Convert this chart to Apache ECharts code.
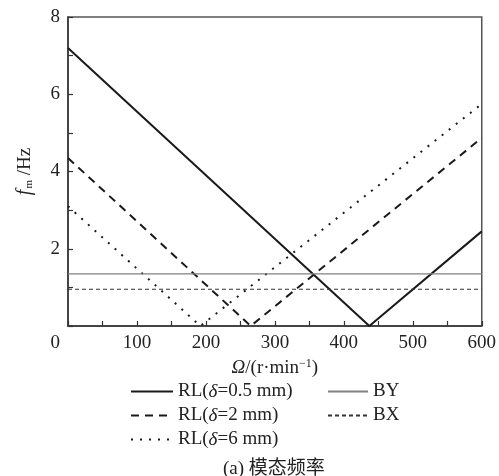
<!DOCTYPE html>
<html><head><meta charset="utf-8">
<script src="https://cdn.jsdelivr.net/npm/echarts@6/dist/echarts.min.js"></script>
<style>html,body{margin:0;padding:0;background:#fff}#c{width:499px;height:476px}</style>
</head><body><div id="c"></div>
<script>
var xTicks = [0, 100, 200, 300, 400, 500, 600];
var yTicks = [0, 2, 4, 6, 8];
var seriesNames = ['RL(δ=0.5 mm)', 'RL(δ=2 mm)', 'RL(δ=6 mm)', 'BY', 'BX'];
var rl05 = [[0, 7.2], [437, 0], [600, 2.45]];
var rl2 = [[0, 4.35], [265, 0], [600, 4.87]];
var rl6 = [[0, 3.1], [192, 0], [600, 5.75]];
var by = [[0, 1.35], [600, 1.35]];
var bx = [[0, 0.95], [600, 0.95]];
var caption = '(a) 模态频率';

var FF = '"Liberation Serif", "Times New Roman", serif';
var chart = echarts.init(document.getElementById('c'), null, {renderer: 'canvas'});
function legFmt(name) { return name.replace('δ', '{i|δ}'); }
var legText = {fontFamily: FF, fontSize: 19, color: '#222', rich: {i: {fontFamily: FF, fontSize: 19, fontStyle: 'italic', color: '#222'}}};
function mk(name, data, color, width, type) {
  return {name: name, type: 'line', data: data, symbol: 'none', silent: true, animation: false,
    lineStyle: {color: color, width: width, type: type}, itemStyle: {color: color}};
}
chart.setOption({
  backgroundColor: '#fff',
  animation: false,
  title: {text: caption, left: 218, top: 455, textStyle: {fontFamily: FF + ', "Noto Sans CJK SC"', fontSize: 19, fontWeight: 'normal', color: '#222'}},
  grid: {left: 68, right: 16, top: 17, bottom: 150, show: true, borderColor: '#555', borderWidth: 1.5, backgroundColor: 'transparent'},
  legend: [
    {data: seriesNames.slice(0, 3), orient: 'vertical', left: 125, top: 377, itemWidth: 42, itemHeight: 14, itemGap: 5, formatter: legFmt, textStyle: legText, selectedMode: false, itemStyle: {opacity: 0}},
    {data: seriesNames.slice(3), orient: 'vertical', left: 322, top: 377, itemWidth: 40, itemHeight: 14, itemGap: 5, formatter: legFmt, textStyle: legText, selectedMode: false, itemStyle: {opacity: 0}}
  ],
  xAxis: {
    type: 'value', min: xTicks[0], max: xTicks[xTicks.length - 1], interval: 100,
    name: '{i|Ω}/(r·min{s|−1})', nameLocation: 'middle', nameGap: 26,
    nameTextStyle: {fontFamily: FF, fontSize: 19, color: '#222', rich: {i: {fontFamily: FF, fontSize: 19, fontStyle: 'italic', color: '#222'}, s: {fontFamily: FF, fontSize: 12, color: '#222', padding: [0, 0, 9, 0]}}},
    axisLine: {lineStyle: {color: '#333', width: 1.5}},
    axisTick: {inside: true, length: 5, lineStyle: {color: '#333', width: 1.2}},
    minorTick: {show: true, splitNumber: 2, length: 5, lineStyle: {color: '#333', width: 1.2}},
    splitLine: {show: false},
    axisLabel: {fontFamily: FF, fontSize: 19, color: '#222', margin: 8, alignMinLabel: 'right',
      formatter: function (v) { return v === 0 ? '{z|0}' : String(v); },
      rich: {z: {fontFamily: FF, fontSize: 19, color: '#222', padding: [0, 8, 0, 0]}}}
  },
  yAxis: {
    type: 'value', min: yTicks[0], max: yTicks[yTicks.length - 1], interval: 2,
    name: '{f|f}{m|m}{n| /Hz}', nameLocation: 'middle', nameGap: 33, nameRotate: 90,
    nameTextStyle: {fontFamily: FF, fontSize: 19, color: '#222', rich: {f: {fontFamily: FF, fontSize: 20, fontStyle: 'italic', color: '#222'}, m: {fontFamily: FF, fontSize: 11, color: '#222', padding: [8, 0, 0, 1]}, n: {fontFamily: FF, fontSize: 19, color: '#222'}}},
    axisLine: {lineStyle: {color: '#333', width: 1.5}},
    axisTick: {inside: true, length: 5, lineStyle: {color: '#333', width: 1.2}},
    minorTick: {show: true, splitNumber: 2, length: 5, lineStyle: {color: '#333', width: 1.2}},
    splitLine: {show: false},
    axisLabel: {fontFamily: FF, fontSize: 19, color: '#222', margin: 8, showMinLabel: false}
  },
  series: [
    mk(seriesNames[0], rl05, '#1a1a1a', 2, 'solid'),
    mk(seriesNames[1], rl2, '#1a1a1a', 2, [8, 6]),
    mk(seriesNames[2], rl6, '#1a1a1a', 2, [2, 7]),
    mk(seriesNames[3], by, '#808080', 1.3, 'solid'),
    mk(seriesNames[4], bx, '#333333', 1.1, [4, 3])
  ]
});
</script></body></html>
